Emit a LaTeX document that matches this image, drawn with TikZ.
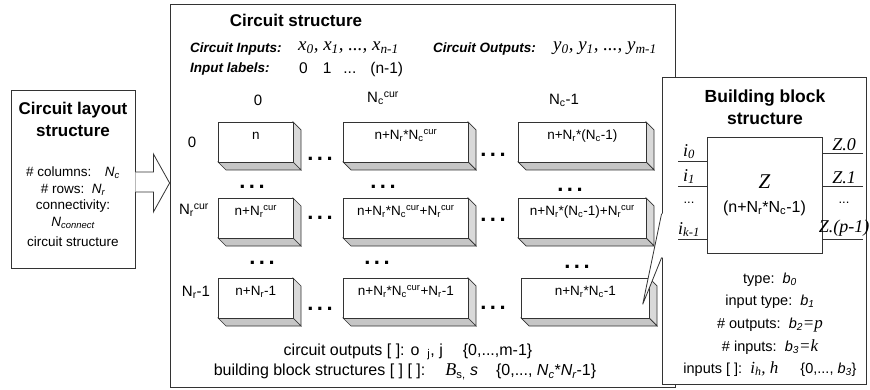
\documentclass[tikz,border=0pt]{standalone}
\usepackage{fontspec}
\setmainfont{Liberation Sans}
\newfontfamily\tms{Liberation Serif}
\usepackage{tikz}
\usetikzlibrary{positioning, calc}
\newcommand{\lsub}[1]{\textsubscript{#1}}
\newcommand{\lsup}[1]{\textsuperscript{#1}}
\newcommand{\celldots}{.\hspace{3.5pt}.\hspace{3.5pt}.}

\begin{document}
\begin{tikzpicture}[
x=1pt, y=-1pt,
every node/.style={align=center, inner sep=1pt, font=\fontsize{13.5}{16}\selectfont},
line/.style={draw=black!80, line width=0.8pt}
]

% Define styles
\tikzstyle{panel} = [rectangle, draw=black!80, fill=white, line width=0.8pt]
\tikzstyle{heading} = [font=\fontsize{17}{22}\selectfont\bfseries]
\tikzstyle{field} = [anchor=west, font=\fontsize{13.5}{16}\selectfont\bfseries\itshape]
\tikzstyle{serif} = [font=\fontsize{18}{20}\selectfont\tms\itshape]
\tikzstyle{header} = [font=\fontsize{15}{17}\selectfont]
\tikzstyle{spec} = [font=\fontsize{14.5}{17}\selectfont]
\tikzstyle{cell} = [rectangle, draw=black!80, fill=white, line width=0.7pt, anchor=north west, inner xsep=2pt, inner ysep=6pt, text height=11pt, text depth=17pt, font=\fontsize{13.5}{15}\selectfont]
\tikzstyle{gap} = [anchor=base, inner sep=0pt, font=\fontsize{22}{22}\selectfont\bfseries]

\useasboundingbox (0,0) rectangle (870,390);

% Circuit layout structure
\node (layout) [panel, minimum width=124, minimum height=178] at (73,179) {};
\node (laytitle) [heading] at (73,119) {Circuit layout\\structure};
\node (laycols) at (73,173) {\# columns:\quad\textit{N\lsub{c}}};
\node (layrows) at (73,190) {\# rows:\ \ \textit{N\lsub{r}}};
\node (laycon) at (73,206) {connectivity:};
\node (layncon) at (73,223) {\textit{N\lsub{connect}}};
\node (laystruct) at (73,242) {circuit structure};

% Circuit structure
\node (cs) [panel, minimum width=505, minimum height=383] at (422.5,195.5) {};
\draw [line, fill=white] ($(layout.east)+(0,-7)$) -- ++(18,0) -- ++(0,-18) -- (cs.west |- 0,183) -- ($(layout.east)+(18,33)$) -- ++(0,-20) -- ($(layout.east)+(0,13)$);
\node (cstitle) [heading] at (296,20) {Circuit structure};
\node (inlab) [field] at (189,49) {Circuit Inputs:};
\node (invars) [serif, font=\fontsize{19}{20}\selectfont\tms\itshape, anchor=west] at (297,48) {x\lsub{0}, x\lsub{1}, ..., x\lsub{n-1}};
\node (outlab) [field] at (432,49) {Circuit Outputs:};
\node (outvars) [serif, font=\fontsize{19}{20}\selectfont\tms\itshape, anchor=west] at (552,48) {y\lsub{0}, y\lsub{1}, ..., y\lsub{m-1}};
\node (lablab) [field] at (189,69) {Input labels:};
\node (labvals) [anchor=west, font=\fontsize{15.5}{17}\selectfont] at (298,69) {0\hspace{15pt}1\hspace{12pt}...\hspace{14pt}(n-1)};

% Column and row headers
\node (hd0) [header] at (258,100) {0};
\node (hdc) [header] at (383,98) {N\lsub{c}\lsup{cur}};
\node (hdl) [header] at (564,100) {N\lsub{c}-1};
\node (rl0) [header] at (192,142) {0};
\node (rlc) [header] at (194,210) {N\lsub{r}\lsup{cur}};
\node (rll) [header] at (196,292) {N\lsub{r}-1};

% Cells
\foreach \nm/\cx/\cy/\cw/\ct in {
  c00/218/122/75/{n},
  c01/343/122/125/{n+N\lsub{r}*N\lsub{c}\lsup{cur}},
  c02/518/122/128/{n+N\lsub{r}*(N\lsub{c}-1)},
  c10/218/198/75/{n+N\lsub{r}\lsup{cur}},
  c11/343/198/125/{n+N\lsub{r}*N\lsub{c}\lsup{cur}+N\lsub{r}\lsup{cur}},
  c12/518/198/128/{n+N\lsub{r}*(N\lsub{c}-1)+N\lsub{r}\lsup{cur}},
  c20/218/278/75/{n+N\lsub{r}-1},
  c21/343/278/125/{n+N\lsub{r}*N\lsub{c}\lsup{cur}+N\lsub{r}-1},
  c22/521/278/128/{n+N\lsub{r}*N\lsub{c}-1}}
{
  \filldraw [gray!30, draw=black!80, line width=0.7pt] (\cx+\cw,\cy) -- ++(8,8) -- ++(0,40) -- ++(-8,-8) -- cycle;
  \filldraw [gray!45, draw=black!80, line width=0.7pt] (\cx,\cy+40) -- ++(\cw,0) -- ++(8,8) -- ++(-\cw,0) -- cycle;
  \node (\nm) [cell, minimum width=\cw] at (\cx,\cy) {\ct};
}

% Dots between cells
\node (g00) [gap] at (320,161) {\celldots};
\node (g01) [gap] at (493,157) {\celldots};
\node (g10) [gap] at (320,220) {\celldots};
\node (g11) [gap] at (493,222) {\celldots};
\node (g20) [gap] at (320,310) {\celldots};
\node (g21) [gap] at (493,309) {\celldots};
\node (v00) [gap] at (252,189) {\celldots};
\node (v01) [gap] at (383,189) {\celldots};
\node (v02) [gap] at (570,192) {\celldots};
\node (v10) [gap] at (262,265) {\celldots};
\node (v11) [gap] at (377,265) {\celldots};
\node (v12) [gap] at (577,269) {\celldots};

\node (cout) [spec, font=\fontsize{16}{18}\selectfont] at (408,352) {circuit outputs [ ]: o\hspace{8pt}\lsub{j}, j\hspace{20pt}\{0,...,m-1\}};
\node (bbs) [spec, font=\fontsize{16}{18}\selectfont] at (405,372) {building block structures [ ] [ ]:\hspace{20pt}{\tms\itshape\fontsize{18}{18}\selectfont B}\lsub{s,}\ \textit{s}\hspace{18pt}\{0,..., \textit{N\lsub{c}}*\textit{N\lsub{r}}-1\}};

% Building block structure
\node (bb) [panel, minimum width=204, minimum height=307] at (764,230.5) {};
\coordinate (tip) at ($(c22.east)+(-7,6)$);
\fill [white] ($(bb.north west)+(0,137)$) -- (tip) -- ($(bb.north west)+(0,181)$) -- ($(bb.north west)+(2,181)$) -- ($(bb.north west)+(2,137)$) -- cycle;
\draw [line] ($(bb.north west)+(0,137)$) -- (tip) -- ($(bb.north west)+(0,181)$);
\node (bbtitle) [heading, font=\fontsize{17.5}{22}\selectfont\bfseries] at (765,107) {Building block\\structure};
\node (zbox) [rectangle, draw=black!80, line width=0.8pt, minimum width=115, minimum height=116, font=\fontsize{16}{24}\selectfont] at (764.5,195) {{\tms\itshape\fontsize{21}{24}\selectfont Z}\\(n+N\lsub{r}*N\lsub{c}-1)};

\foreach \yy/\nm/\lab in {161/in0/{i\lsub{0}}, 186/in1/{i\lsub{1}}, 239/ink/{i\lsub{k-1}}}
{
  \coordinate (\nm) at (678,\yy);
  \draw [line] (\nm) -- (\nm -| zbox.west);
  \node (\nm l) [serif, anchor=south] at ($(\nm)+(11,-1)$) {\lab};
}
\node (indots) [font=\fontsize{13}{13}\selectfont] at (689,203) {...};
\foreach \yy/\nm/\lab in {153/out0/{Z.0}, 186/out1/{Z.1}, 239/outp/{Z.(p-1)}}
{
  \coordinate (\nm) at (863,\yy);
  \draw [line] (\nm) -- (\nm -| zbox.east);
  \node (\nm l) [serif, anchor=south] at ($(\nm)+(-19,-1)$) {\lab};
}
\node (outdots) [font=\fontsize{13}{13}\selectfont] at (844,203) {...};

\node (btype) [spec] at (770,280) {type:\ \ \textit{b\lsub{0}}};
\node (bintype) [spec] at (770,302) {input type:\ \ \textit{b\lsub{1}}};
\node (bouts) [spec] at (770,325) {\# outputs:\ \ \textit{b\lsub{2}}{\tms\itshape\fontsize{17}{17}\selectfont =p}};
\node (bins) [spec] at (770,347) {\# inputs:\ \ \textit{b\lsub{3}}{\tms\itshape\fontsize{17}{17}\selectfont =k}};
\node (binlist) [spec] at (770,369) {inputs [ ]:\ \ {\tms\itshape\fontsize{17}{17}\selectfont i\lsub{h}, h}\hspace{22pt}\{0,...,\hspace{4pt}\textit{b\lsub{3}}\}};

\end{tikzpicture}
\end{document}
